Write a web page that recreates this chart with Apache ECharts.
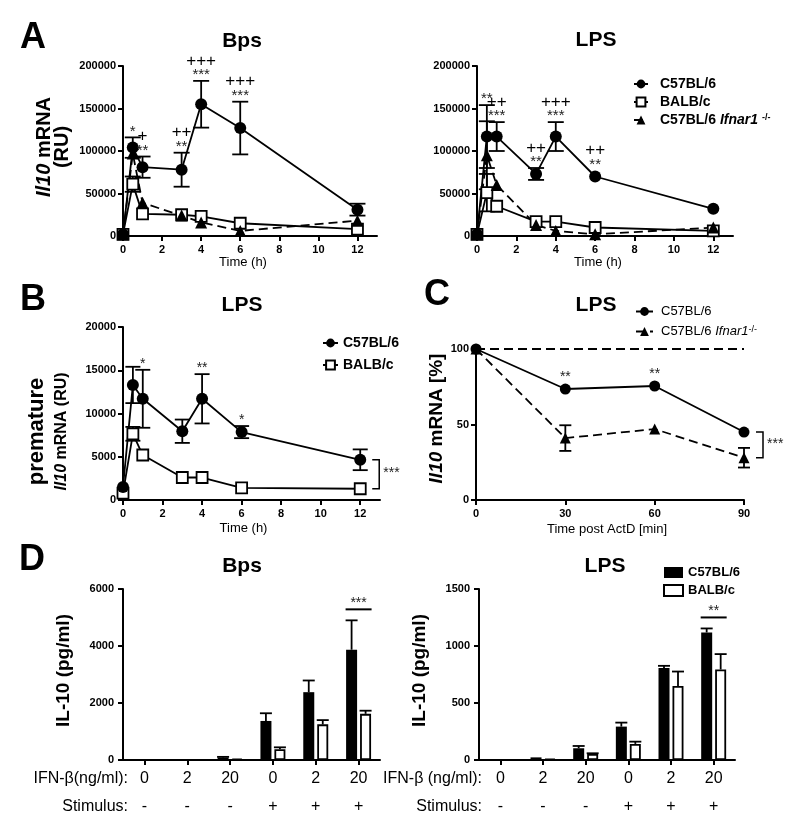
<!DOCTYPE html>
<html>
<head>
<meta charset="utf-8">
<script src="https://cdn.jsdelivr.net/npm/echarts@6.0.0/dist/echarts.min.js"></script>
<style>
html,body{margin:0;padding:0;background:#fff;}
#chart{width:800px;height:823px;}
</style>
</head>
<body>
<div id="chart"></div>
<script>
// ================= DATA =================
// Panel A (time in h)
const timeA = [0, 0.5, 1, 3, 4, 6, 12];
const xTicksA = [0, 2, 4, 6, 8, 10, 12];
// A - Bps
const aBpsC57 = [2000, 104000, 81000, 78000, 155000, 127000, 31000];
const aBpsC57Err = [0, 12000, 12500, 20000, 27500, 31000, 7000];
const aBpsBalb = [2000, 61000, 26000, 25000, 23000, 15000, 8000];
const aBpsBalbErr = [0, 9000, 0, 0, 0, 0, 0];
const aBpsIfnar = [2000, 97000, 39000, 24000, 16000, 6000, 18000];
const aBpsIfnarErr = [0, 0, 0, 0, 0, 0, 0];
const aBpsStars = ['', '*', '**', '**', '***', '***', ''];
const aBpsPlus = ['', '', '+', '++', '+++', '+++', ''];
// A - LPS
const aLpsC57 = [2000, 117000, 117000, 73000, 117000, 70000, 32000];
const aLpsC57Err = [0, 37000, 17000, 7000, 17000, 0, 0];
const aLpsBalb = [2000, 51000, 35000, 17000, 17000, 10000, 6000];
const aLpsBalbErr = [0, 22000, 0, 0, 0, 0, 0];
const aLpsIfnar = [2000, 95000, 60000, 13000, 6000, 2000, 10000];
const aLpsIfnarErr = [0, 40000, 0, 0, 0, 0, 0];
const aLpsStars = ['', '**', '***', '**', '***', '**', ''];
const aLpsPlus = ['', '', '++', '++', '+++', '++', ''];
// Panel B
const timeB = [0, 0.5, 1, 3, 4, 6, 12];
const xTicksB = [0, 2, 4, 6, 8, 10, 12];
const bC57 = [1500, 13300, 11700, 7950, 11700, 7850, 4650];
const bC57Err = [0, 2100, 3350, 1350, 2850, 700, 1200];
const bBalb = [800, 7650, 5200, 2600, 2600, 1400, 1300];
const bBalbErr = [0, 800, 0, 0, 0, 0, 0];
const bStars = ['', '', '*', '', '**', '*', ''];
const bBracket = '***';
// Panel C
const timeC = [0, 30, 60, 90];
const cC57 = [100, 73.5, 75.5, 45];
const cC57Err = [0, 0, 0, 0];
const cIfnar = [100, 41, 47, 28];
const cIfnarErr = [0, 8.5, 0, 6.5];
const cStars = ['', '**', '**', ''];
const cBracket = '***';
const cRefLine = 100;
// Panel D
const dCats = ['0', '2', '20', '0', '2', '20'];
const dStim = ['-', '-', '-', '+', '+', '+'];
const dBpsC57 = [0, 15, 90, 1370, 2380, 3870];
const dBpsC57Err = [0, 0, 20, 270, 410, 1030];
const dBpsBalb = [0, 5, 45, 375, 1250, 1620];
const dBpsBalbErr = [0, 0, 0, 70, 150, 110];
const dLpsC57 = [0, 23, 103, 293, 806, 1119];
const dLpsC57Err = [0, 0, 20, 35, 20, 35];
const dLpsBalb = [0, 9, 53, 141, 650, 794];
const dLpsBalbErr = [0, 0, 6, 20, 126, 135];
const dBpsSig = ['', '', '', '', '', '***'];
const dLpsSig = ['', '', '', '', '', '**'];

// ================= STYLE / HELPERS =================
const FONT = 'Arial, "Liberation Sans", Helvetica, sans-serif';
const K = '#000';
const LW = 1.8;
const IFNAR = 'C57BL/6 Ifnar1-/-';

function pts(xs, ys) { return xs.map((x, i) => [x, ys[i]]); }

function lineSer(name, gi, xs, ys, kind, size) {
  const open = kind === 'square';
  return {
    type: 'line', name: name, xAxisIndex: gi, yAxisIndex: gi, data: pts(xs, ys),
    symbol: kind === 'circle' ? 'circle' : (open ? 'rect' : 'triangle'),
    symbolSize: size, showSymbol: true, showAllSymbol: true, clip: false,
    lineStyle: { color: K, width: LW, type: kind === 'triangle' ? [9, 5] : 'solid' },
    itemStyle: open ? { color: '#fff', borderColor: K, borderWidth: LW } : { color: K, borderColor: K, borderWidth: 0 },
    emphasis: { disabled: true }, z: 3, silent: true, animation: false
  };
}

function errSer(gi, xs, ys, es, cap) {
  return {
    type: 'custom', xAxisIndex: gi, yAxisIndex: gi, z: 2, silent: true, animation: false,
    data: xs.map((x, i) => [x, ys[i], es[i]]),
    renderItem: function (params, api) {
      const x = api.value(0), y = api.value(1), e = api.value(2);
      if (!e) return null;
      const t = api.coord([x, y + e]);
      const b = api.coord([x, Math.max(0, y - e)]);
      const st = { stroke: K, lineWidth: LW };
      return { type: 'group', children: [
        { type: 'line', shape: { x1: t[0], y1: t[1], x2: b[0], y2: b[1] }, style: st },
        { type: 'line', shape: { x1: t[0] - cap, y1: t[1], x2: t[0] + cap, y2: t[1] }, style: st },
        { type: 'line', shape: { x1: b[0] - cap, y1: b[1], x2: b[0] + cap, y2: b[1] }, style: st }
      ] };
    }
  };
}

function annSer(gi, xs, ys, es, stars, plus, starSize) {
  return {
    type: 'custom', xAxisIndex: gi, yAxisIndex: gi, z: 5, silent: true, animation: false,
    data: pts(xs, ys),
    renderItem: function (params, api) {
      const i = params.dataIndex;
      const s = stars[i], p = plus ? plus[i] : '';
      if (!s && !p) return null;
      const e = es[i];
      const a = api.coord([xs[i], ys[i] + e]);
      const ay = e ? a[1] : a[1] - 6;
      const ch = [];
      if (s) ch.push({ type: 'text', x: a[0], y: ay - 6, style: { text: s, fill: '#222', fontSize: starSize, fontFamily: FONT, align: 'center', verticalAlign: 'middle' } });
      if (p) ch.push({ type: 'text', x: a[0], y: ay - 20, style: { text: p, fill: K, fontSize: 17, fontFamily: FONT, align: 'center', verticalAlign: 'middle' } });
      return { type: 'group', children: ch };
    }
  };
}

function bracketSer(gi, xs, ys1, ys2, label) {
  const n = xs.length - 1;
  return {
    type: 'custom', xAxisIndex: gi, yAxisIndex: gi, z: 5, silent: true, animation: false,
    data: [[xs[n], ys1[n]]],
    renderItem: function (params, api) {
      const p1 = api.coord([xs[n], ys1[n]]);
      const p2 = api.coord([xs[n], ys2[n]]);
      const x0 = p1[0] + 12, x1 = p1[0] + 19;
      return { type: 'group', children: [
        { type: 'polyline', shape: { points: [[x0, p1[1]], [x1, p1[1]], [x1, p2[1]], [x0, p2[1]]] }, style: { stroke: K, lineWidth: 1.5, fill: null } },
        { type: 'text', x: x1 + 4, y: (p1[1] + p2[1]) / 2 - 1, style: { text: label, fill: '#222', fontSize: 14, fontFamily: FONT, align: 'left', verticalAlign: 'middle' } }
      ] };
    }
  };
}

function barSer(name, gi, ys, filled) {
  return {
    type: 'bar', name: name, xAxisIndex: gi, yAxisIndex: gi, data: ys,
    barWidth: 11, barGap: '27%', silent: true, animation: false, z: 2,
    itemStyle: filled ? { color: K } : { color: '#fff', borderColor: K, borderWidth: LW }
  };
}

function barErrSer(gi, ys, es, dx) {
  return {
    type: 'custom', xAxisIndex: gi, yAxisIndex: gi, z: 3, silent: true, animation: false,
    data: ys.map((y, i) => [i, y, es[i]]),
    renderItem: function (params, api) {
      const e = api.value(2);
      if (!e) return null;
      const c = api.value(0), y = api.value(1);
      const t = api.coord([c, y + e]);
      const b = api.coord([c, y]);
      const x = t[0] + dx;
      const st = { stroke: K, lineWidth: LW };
      return { type: 'group', children: [
        { type: 'line', shape: { x1: x, y1: t[1], x2: x, y2: b[1] }, style: st },
        { type: 'line', shape: { x1: x - 6, y1: t[1], x2: x + 6, y2: t[1] }, style: st }
      ] };
    }
  };
}

function sigSer(gi, ys1, es1, ys2, es2, labels) {
  return {
    type: 'custom', xAxisIndex: gi, yAxisIndex: gi, z: 5, silent: true, animation: false,
    data: labels.map((l, i) => [i, Math.max(ys1[i] + es1[i], ys2[i] + es2[i])]),
    renderItem: function (params, api) {
      const l = labels[params.dataIndex];
      if (!l) return null;
      const p = api.coord([api.value(0), api.value(1)]);
      const ly = p[1] - 11;
      return { type: 'group', children: [
        { type: 'line', shape: { x1: p[0] - 13, y1: ly, x2: p[0] + 13, y2: ly }, style: { stroke: K, lineWidth: 2 } },
        { type: 'text', x: p[0], y: ly - 6, style: { text: l, fill: '#222', fontSize: 14, fontFamily: FONT, align: 'center', verticalAlign: 'middle' } }
      ] };
    }
  };
}

const plainNum = function (v) { return String(v); };
const AXLINE = { show: true, onZero: false, lineStyle: { color: K, width: 2 } };
const AXTICK = { show: true, length: 5, lineStyle: { color: K, width: 2 } };
const AXLABEL = { color: K, fontSize: 11, fontWeight: 'bold', fontFamily: FONT, margin: 7, formatter: plainNum };

function valAxis(gi, min, max, interval, extra) {
  return Object.assign({
    type: 'value', gridIndex: gi, min: min, max: max, interval: interval,
    axisLine: AXLINE, axisTick: AXTICK, axisLabel: AXLABEL, splitLine: { show: false }
  }, extra || {});
}

function timeX(gi, ticks, gap, pad) {
  return valAxis(gi, 0, 13, 2, {
    axisTick: Object.assign({}, AXTICK, { customValues: ticks }),
    axisLabel: Object.assign({}, AXLABEL, { margin: 8, customValues: ticks }),
    name: 'Time (h)', nameLocation: 'middle', nameGap: gap,
    nameTextStyle: { fontSize: 13, fontFamily: FONT, color: K, padding: [0, pad, 0, 0] }
  });
}

function catX(gi) {
  return {
    type: 'category', gridIndex: gi, data: dCats, boundaryGap: true,
    axisLine: AXLINE,
    axisTick: Object.assign({}, AXTICK, { alignWithLabel: true }),
    axisLabel: {
      margin: 5, interval: 0,
      formatter: function (v, i) { return '{a|' + v + '}\n{b|' + dStim[i] + '}'; },
      rich: {
        a: { fontSize: 16, lineHeight: 28, fontFamily: FONT, color: K },
        b: { fontSize: 16, lineHeight: 28, fontFamily: FONT, color: K }
      }
    },
    splitLine: { show: false }
  };
}

const RICH19 = {
  i: { fontSize: 19, fontWeight: 'bold', fontStyle: 'italic', fontFamily: FONT, color: K },
  b: { fontSize: 19, fontWeight: 'bold', fontFamily: FONT, color: K }
};

function txt(text, x, y, size, weight, align) {
  return { type: 'text', x: x, y: y, silent: true,
    style: { text: text, fontSize: size, fontWeight: weight || 'normal', fontFamily: FONT, fill: K, align: align || 'center', verticalAlign: 'middle' } };
}

const ifnarFmtA = function (n) { return n === IFNAR ? 'C57BL/6 {it|Ifnar1} {sup|-/-}' : n; };
const ifnarFmtC = function (n) { return n === IFNAR ? 'C57BL/6 {it|Ifnar1}{sup|-/-}' : n; };

// ================= OPTION =================
const option = {
  animation: false,
  backgroundColor: '#fff',
  textStyle: { fontFamily: FONT },
  grid: [
    { left: 123, top: 66, width: 254, height: 170 },
    { left: 477, top: 66, width: 256, height: 170 },
    { left: 123, top: 327, width: 257, height: 173 },
    { left: 476, top: 349, width: 268, height: 151 },
    { left: 123, top: 589, width: 257, height: 171 },
    { left: 479, top: 589, width: 256, height: 171 }
  ],
  xAxis: [
    timeX(0, xTicksA, 19, 14),
    timeX(1, xTicksA, 19, 14),
    timeX(2, xTicksB, 22, 16),
    valAxis(3, 0, 90, 30, {
      axisLabel: Object.assign({}, AXLABEL, { margin: 8 }),
      name: 'Time post ActD [min]', nameLocation: 'middle', nameGap: 23,
      nameTextStyle: { fontSize: 13, fontFamily: FONT, color: K, padding: [0, 6, 0, 0] }
    }),
    catX(4),
    catX(5)
  ],
  yAxis: [
    valAxis(0, 0, 200000, 50000, {
      name: '{i|Il10}{b| mRNA}\n{b|(RU)}', nameLocation: 'middle', nameRotate: 90, nameGap: 52,
      nameTextStyle: { padding: [0, 0, 0, 8], rich: {
        i: { fontSize: 20, fontWeight: 'bold', fontStyle: 'italic', fontFamily: FONT, color: K, lineHeight: 18 },
        b: { fontSize: 20, fontWeight: 'bold', fontFamily: FONT, color: K, lineHeight: 18 } } }
    }),
    valAxis(1, 0, 200000, 50000),
    valAxis(2, 0, 20000, 5000, {
      name: '{p|premature}\n{i|Il10}{b| mRNA (RU)}', nameLocation: 'middle', nameRotate: 90, nameGap: 51,
      nameTextStyle: { padding: [0, 36, 0, 0], rich: {
        p: { fontSize: 22, fontWeight: 'bold', fontFamily: FONT, color: K, lineHeight: 30 },
        i: { fontSize: 16, fontWeight: 'bold', fontStyle: 'italic', fontFamily: FONT, color: K, lineHeight: 20 },
        b: { fontSize: 16, fontWeight: 'bold', fontFamily: FONT, color: K, lineHeight: 20 } } }
    }),
    valAxis(3, 0, 100, 50, {
      name: '{i|Il10}{b| mRNA [%]}', nameLocation: 'middle', nameRotate: 90, nameGap: 30,
      nameTextStyle: { padding: [0, 0, 0, 12], rich: RICH19 }
    }),
    valAxis(4, 0, 6000, 2000, {
      axisLabel: Object.assign({}, AXLABEL, { margin: 9 }),
      name: 'IL-10 (pg/ml)', nameLocation: 'middle', nameRotate: 90, nameGap: 50,
      nameTextStyle: { fontSize: 19, fontWeight: 'bold', fontFamily: FONT, color: K, padding: [0, 0, 0, 8] }
    }),
    valAxis(5, 0, 1500, 500, {
      axisLabel: Object.assign({}, AXLABEL, { margin: 9 }),
      name: 'IL-10 (pg/ml)', nameLocation: 'middle', nameRotate: 90, nameGap: 50,
      nameTextStyle: { fontSize: 19, fontWeight: 'bold', fontFamily: FONT, color: K, padding: [0, 0, 0, 8] }
    })
  ],
  legend: [
    { orient: 'vertical', left: 633, top: 77, padding: 0, itemWidth: 14, itemHeight: 11, itemGap: 4, selectedMode: false,
      data: ['C57BL/6', 'BALB/c', IFNAR], formatter: ifnarFmtA,
      textStyle: { fontSize: 14, fontWeight: 'bold', fontFamily: FONT, color: K, padding: [0, 0, 0, 7],
        rich: { it: { fontSize: 14, fontWeight: 'bold', fontStyle: 'italic', fontFamily: FONT, color: K },
                sup: { fontSize: 9, fontWeight: 'bold', fontFamily: FONT, color: K, verticalAlign: 'top' } } } },
    { orient: 'vertical', left: 322, top: 336, padding: 0, itemWidth: 15, itemHeight: 11, itemGap: 8, selectedMode: false,
      data: ['C57BL/6', 'BALB/c'],
      textStyle: { fontSize: 14, fontWeight: 'bold', fontFamily: FONT, color: K } },
    { orient: 'vertical', left: 635, top: 305, padding: 0, itemWidth: 17, itemHeight: 11, itemGap: 7, selectedMode: false,
      data: ['C57BL/6', IFNAR], formatter: ifnarFmtC,
      textStyle: { fontSize: 13, fontFamily: FONT, color: K, padding: [0, 0, 0, 3],
        rich: { it: { fontSize: 13, fontStyle: 'italic', fontFamily: FONT, color: K },
                sup: { fontSize: 9, fontFamily: FONT, color: K, verticalAlign: 'top' } } } },
    { orient: 'vertical', left: 663, top: 566, padding: 0, itemWidth: 19, itemHeight: 11, itemGap: 5, selectedMode: false,
      icon: 'rect',
      data: ['D:C57BL/6', 'D:BALB/c'], formatter: function (n) { return n.replace('D:', ''); },
      textStyle: { fontSize: 13, fontWeight: 'bold', fontFamily: FONT, color: K } }
  ],
  series: [
    // A - Bps
    errSer(0, timeA, aBpsBalb, aBpsBalbErr, 8),
    errSer(0, timeA, aBpsIfnar, aBpsIfnarErr, 8),
    errSer(0, timeA, aBpsC57, aBpsC57Err, 8),
    lineSer('BALB/c', 0, timeA, aBpsBalb, 'square', 11),
    lineSer(IFNAR, 0, timeA, aBpsIfnar, 'triangle', 12),
    lineSer('C57BL/6', 0, timeA, aBpsC57, 'circle', 12),
    annSer(0, timeA, aBpsC57, aBpsC57Err, aBpsStars, aBpsPlus, 15),
    // A - LPS
    errSer(1, timeA, aLpsBalb, aLpsBalbErr, 8),
    errSer(1, timeA, aLpsIfnar, aLpsIfnarErr, 8),
    errSer(1, timeA, aLpsC57, aLpsC57Err, 8),
    lineSer('BALB/c', 1, timeA, aLpsBalb, 'square', 11),
    lineSer(IFNAR, 1, timeA, aLpsIfnar, 'triangle', 12),
    lineSer('C57BL/6', 1, timeA, aLpsC57, 'circle', 12),
    annSer(1, timeA, aLpsC57, aLpsC57Err, aLpsStars, aLpsPlus, 15),
    // B
    errSer(2, timeB, bBalb, bBalbErr, 7.5),
    errSer(2, timeB, bC57, bC57Err, 7.5),
    lineSer('BALB/c', 2, timeB, bBalb, 'square', 11),
    lineSer('C57BL/6', 2, timeB, bC57, 'circle', 12),
    annSer(2, timeB, bC57, bC57Err, bStars, null, 14),
    bracketSer(2, timeB, bC57, bBalb, bBracket),
    // C
    errSer(3, timeC, cIfnar, cIfnarErr, 6),
    errSer(3, timeC, cC57, cC57Err, 6),
    Object.assign(lineSer(IFNAR, 3, timeC, cIfnar, 'triangle', 11), {
      markLine: { silent: true, symbol: 'none', label: { show: false }, animation: false,
        lineStyle: { color: K, width: LW, type: [9, 5] }, data: [{ yAxis: cRefLine }] }
    }),
    lineSer('C57BL/6', 3, timeC, cC57, 'circle', 11),
    annSer(3, timeC, cC57, cC57Err, cStars, null, 14),
    bracketSer(3, timeC, cC57, cIfnar, cBracket),
    // D - Bps
    barSer('D:C57BL/6', 4, dBpsC57, true),
    barSer('D:BALB/c', 4, dBpsBalb, false),
    barErrSer(4, dBpsC57, dBpsC57Err, -7),
    barErrSer(4, dBpsBalb, dBpsBalbErr, 7),
    sigSer(4, dBpsC57, dBpsC57Err, dBpsBalb, dBpsBalbErr, dBpsSig),
    // D - LPS
    barSer('D:C57BL/6', 5, dLpsC57, true),
    barSer('D:BALB/c', 5, dLpsBalb, false),
    barErrSer(5, dLpsC57, dLpsC57Err, -7),
    barErrSer(5, dLpsBalb, dLpsBalbErr, 7),
    sigSer(5, dLpsC57, dLpsC57Err, dLpsBalb, dLpsBalbErr, dLpsSig)
  ],
  graphic: [
    txt('A', 33, 38, 36, 'bold'),
    txt('B', 33, 300, 36, 'bold'),
    txt('C', 437, 295, 36, 'bold'),
    txt('D', 32, 560, 36, 'bold'),
    txt('Bps', 242, 41, 21, 'bold'),
    txt('LPS', 596, 40, 21, 'bold'),
    txt('LPS', 242, 305, 21, 'bold'),
    txt('LPS', 596, 305, 21, 'bold'),
    txt('Bps', 242, 566, 21, 'bold'),
    txt('LPS', 605, 566, 21, 'bold'),
    txt('IFN-β(ng/ml):', 128, 779, 16, 'normal', 'right'),
    txt('Stimulus:', 128, 807, 16, 'normal', 'right'),
    txt('IFN-β (ng/ml):', 482, 779, 16, 'normal', 'right'),
    txt('Stimulus:', 482, 807, 16, 'normal', 'right')
  ]
};

const chart = echarts.init(document.getElementById('chart'));
chart.setOption(option);
</script>
</body>
</html>
